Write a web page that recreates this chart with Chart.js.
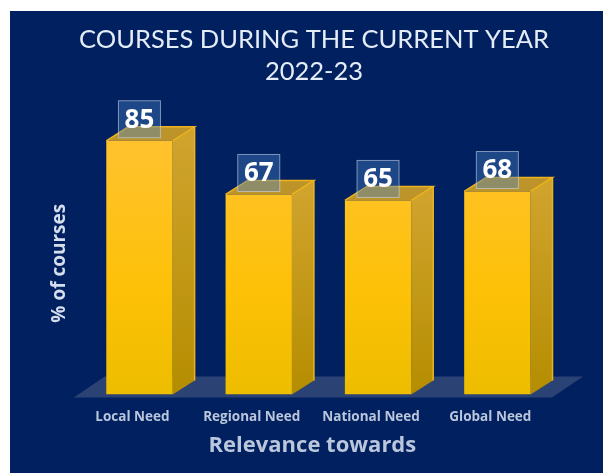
<!DOCTYPE html>
<html><head><meta charset="utf-8">
<style>html,body{margin:0;padding:0;background:#fff;overflow:hidden}
#wrap{position:absolute;left:0;top:0;width:603px;height:473px}</style>
<script src="https://cdn.jsdelivr.net/npm/chart.js@4"></script></head>
<body><div id="wrap"><canvas id="c" width="603" height="473"></canvas></div>
<script>
const categories = ["Local Need", "Regional Need", "National Need", "Global Need"];
const percentOfCourses = [85, 67, 65, 68];
const titleLines = ["COURSES DURING THE CURRENT YEAR", "2022-23"];
const xAxisTitle = "Relevance towards";
const yAxisTitle = "% of courses";

const DX = 22, DY = 14;

function shiftDraw(obj, method, chart, dx, dy) {
  if (!obj || obj.__shifted) return;
  obj.__shifted = true;
  const orig = obj[method].bind(obj);
  obj[method] = function (...a) {
    const c = chart.ctx;
    c.save(); c.translate(dx, dy); orig(...a); c.restore();
  };
}

const panel = {
  id: "panel",
  afterLayout(chart) {
    shiftDraw(chart.titleBlock, "draw", chart, 11.5, 0);
    shiftDraw(chart.scales.x, "drawTitle", chart, -6, 0);
    shiftDraw(chart.scales.y, "drawTitle", chart, 0, 18);
  },
  beforeDraw(chart) {
    const c = chart.ctx;
    c.save();
    c.fillStyle = "#012060";
    c.fillRect(10, 11, 593, 462);
    const { x, y } = chart.scales;
    const y0 = y.getPixelForValue(0);
    c.fillStyle = "#2B4274";
    c.beginPath();
    c.moveTo(x.left - 6, y0 + 3);
    c.lineTo(x.right - 5, y0 + 3);
    c.lineTo(x.right + 26, y0 - 18);
    c.lineTo(x.left + 25, y0 - 18);
    c.closePath();
    c.fill();
    c.restore();
  },
  beforeDatasetsDraw(chart) {
    const c = chart.ctx;
    const y0 = chart.scales.y.getPixelForValue(0);
    c.save();
    chart.getDatasetMeta(0).data.forEach(b => {
      const r = b.x + b.width / 2, l = b.x - b.width / 2, t = b.y;
      const g = c.createLinearGradient(0, t, 0, y0);
      g.addColorStop(0, "#CFA32C");
      g.addColorStop(1, "#B58D00");
      c.fillStyle = g;
      c.beginPath();
      c.moveTo(r, t); c.lineTo(r + DX, t - DY); c.lineTo(r + DX, y0 - DY); c.lineTo(r, y0);
      c.closePath(); c.fill();
      c.fillStyle = "#BC942A";
      c.beginPath();
      c.moveTo(l, t); c.lineTo(l + DX, t - DY); c.lineTo(r + DX, t - DY); c.lineTo(r, t);
      c.closePath(); c.fill();
      c.strokeStyle = "#EDB31E"; c.lineWidth = 1.5;
      c.beginPath();
      c.moveTo(l, t); c.lineTo(l + DX, t - DY); c.lineTo(r + DX, t - DY); c.lineTo(r, t);
      c.moveTo(r + DX, t - DY); c.lineTo(r + DX, y0 - DY);
      c.stroke();
    });
    c.restore();
  },
  afterDatasetsDraw(chart) {
    const c = chart.ctx;
    c.save();
    chart.getDatasetMeta(0).data.forEach((b, i) => {
      const w = 42, h = 37, cy = b.y - 21.5;
      c.fillStyle = "rgba(75,130,195,0.4)";
      c.fillRect(b.x - w / 2, cy - h / 2, w, h);
      c.strokeStyle = "rgba(200,215,235,0.6)"; c.lineWidth = 1;
      c.strokeRect(b.x - w / 2, cy - h / 2, w, h);
      c.fillStyle = "#fff";
      c.font = "bold 26px 'Open Sans'";
      c.textAlign = "center"; c.textBaseline = "middle";
      c.fillText(String(percentOfCourses[i]), b.x, cy + 1);
    });
    c.restore();
  }
};

const canvas = document.getElementById("c");
const fill = ctx => {
  const { chart } = ctx;
  if (!chart.chartArea) return "#FFC000";
  const g = chart.ctx.createLinearGradient(0, chart.scales.y.getPixelForValue(85), 0, chart.scales.y.getPixelForValue(0));
  g.addColorStop(0, "#FFC22E");
  g.addColorStop(0.6, "#FDC107");
  g.addColorStop(1, "#EDBD00");
  return g;
};

new Chart(canvas, {
  type: "bar",
  data: { labels: categories, datasets: [{ data: percentOfCourses, backgroundColor: fill, borderWidth: 0, barPercentage: 0.556, categoryPercentage: 1 }] },
  plugins: [panel],
  options: {
    responsive: false, animation: false, devicePixelRatio: 1,
    layout: { padding: { left: 48, right: 46, top: 24, bottom: 14 } },
    plugins: {
      legend: { display: false }, tooltip: { enabled: false },
      title: { display: true, text: titleLines, color: "#E4ECF6", font: { family: "Lato", size: 25.5, weight: "normal", lineHeight: 1.255 }, padding: { top: 0, bottom: 8 } }
    },
    scales: {
      x: {
        grid: { display: false }, border: { display: false },
        ticks: { color: "#B9C6DC", font: { family: "Open Sans", size: 13.5, weight: "bold" }, padding: 7, maxRotation: 0, labelOffset: -7 },
        title: { display: true, text: xAxisTitle, color: "#B9C6DC", font: { family: "Open Sans", size: 22, weight: "bold" }, padding: { top: 0, bottom: 0 } }
      },
      y: {
        min: 0, max: 100, grid: { display: false }, border: { display: false },
        ticks: { display: false },
        title: { display: true, text: yAxisTitle, color: "#D5DEEC", font: { family: "Open Sans", size: 19, weight: "bold" }, padding: { top: 0, bottom: 1 } }
      }
    }
  }
});
</script></body></html>
